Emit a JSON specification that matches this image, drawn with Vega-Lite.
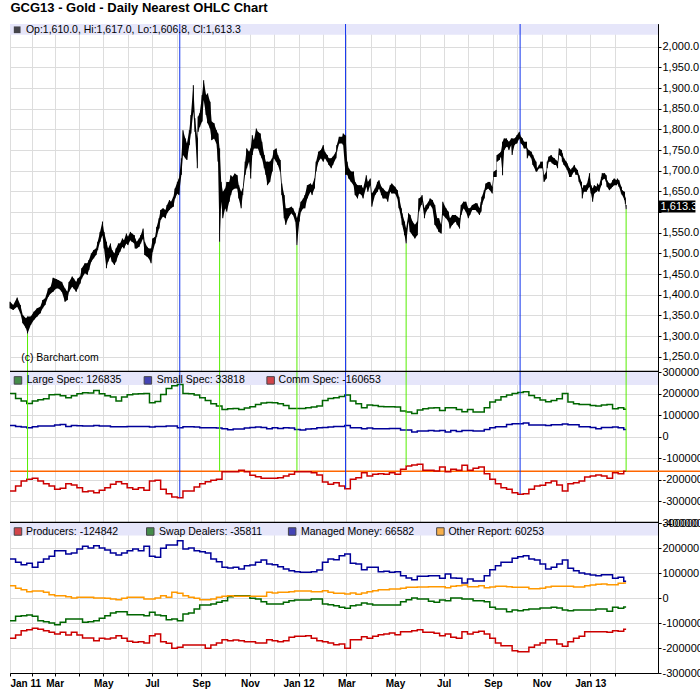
{
"$schema": "https://vega.github.io/schema/vega-lite/v6.json",
"background": "white",
"padding": {"left": 6, "top": 2, "right": 0, "bottom": 0},
"title": {"text": "GCG13 - Gold - Daily Nearest OHLC Chart", "anchor": "start", "fontSize": 13, "fontWeight": "bold", "font": "Liberation Sans", "color": "black", "offset": 8, "dx": 4},
"bounds": "flush",
"spacing": 0,
"resolve": {"scale": {"x": "independent", "y": "independent"}},
"config": {"aria": false, "font": "Liberation Sans", "view": {"stroke": "black", "strokeWidth": 1}, "axis": {"labelFont": "Liberation Sans", "labelOverlap": false}},
"datasets": {
"price": [
{"d":"2011-01-04","h":1383,"l":1367},{"d":"2011-01-08","h":1375,"l":1363},{"d":"2011-01-13","h":1393,"l":1371},{"d":"2011-01-17","h":1375,"l":1355},{"d":"2011-01-20","h":1351,"l":1331},{"d":"2011-01-24","h":1343,"l":1319},{"d":"2011-01-26","h":1347,"l":1306},{"d":"2011-01-30","h":1347,"l":1327},{"d":"2011-02-03","h":1359,"l":1339},{"d":"2011-02-07","h":1367,"l":1347},{"d":"2011-02-11","h":1371,"l":1355},{"d":"2011-02-14","h":1387,"l":1367},{"d":"2011-02-17","h":1391,"l":1375},{"d":"2011-02-21","h":1415,"l":1395},{"d":"2011-02-24","h":1419,"l":1403},{"d":"2011-02-27","h":1441,"l":1407},{"d":"2011-03-03","h":1438,"l":1415},{"d":"2011-03-06","h":1435,"l":1415},{"d":"2011-03-10","h":1431,"l":1407},{"d":"2011-03-14","h":1415,"l":1383},{"d":"2011-03-17","h":1407,"l":1387},{"d":"2011-03-19","h":1431,"l":1407},{"d":"2011-03-23","h":1444,"l":1419},{"d":"2011-03-25","h":1439,"l":1415},{"d":"2011-03-28","h":1431,"l":1407},{"d":"2011-03-30","h":1439,"l":1415},{"d":"2011-04-02","h":1444,"l":1427},{"d":"2011-04-04","h":1464,"l":1439},{"d":"2011-04-08","h":1476,"l":1452},{"d":"2011-04-11","h":1476,"l":1448},{"d":"2011-04-13","h":1484,"l":1460},{"d":"2011-04-16","h":1500,"l":1480},{"d":"2011-04-19","h":1508,"l":1488},{"d":"2011-04-22","h":1512,"l":1496},{"d":"2011-04-24","h":1528,"l":1508},{"d":"2011-04-27","h":1552,"l":1528},{"d":"2011-04-30","h":1577,"l":1544},{"d":"2011-05-02","h":1552,"l":1512},{"d":"2011-05-05","h":1528,"l":1464},{"d":"2011-05-07","h":1512,"l":1480},{"d":"2011-05-10","h":1524,"l":1492},{"d":"2011-05-12","h":1508,"l":1480},{"d":"2011-05-15","h":1500,"l":1472},{"d":"2011-05-17","h":1512,"l":1480},{"d":"2011-05-20","h":1524,"l":1496},{"d":"2011-05-22","h":1524,"l":1504},{"d":"2011-05-25","h":1536,"l":1516},{"d":"2011-05-27","h":1532,"l":1512},{"d":"2011-05-30","h":1548,"l":1524},{"d":"2011-06-01","h":1540,"l":1520},{"d":"2011-06-04","h":1552,"l":1532},{"d":"2011-06-06","h":1548,"l":1528},{"d":"2011-06-09","h":1544,"l":1524},{"d":"2011-06-10","h":1536,"l":1512},{"d":"2011-06-12","h":1528,"l":1512},{"d":"2011-06-15","h":1536,"l":1516},{"d":"2011-06-17","h":1544,"l":1524},{"d":"2011-06-20","h":1560,"l":1536},{"d":"2011-06-22","h":1528,"l":1496},{"d":"2011-06-25","h":1516,"l":1492},{"d":"2011-06-27","h":1512,"l":1488},{"d":"2011-06-30","h":1512,"l":1476},{"d":"2011-07-02","h":1536,"l":1504},{"d":"2011-07-05","h":1540,"l":1524},{"d":"2011-07-07","h":1564,"l":1540},{"d":"2011-07-10","h":1585,"l":1560},{"d":"2011-07-12","h":1605,"l":1581},{"d":"2011-07-15","h":1609,"l":1589},{"d":"2011-07-18","h":1605,"l":1585},{"d":"2011-07-20","h":1617,"l":1597},{"d":"2011-07-23","h":1629,"l":1605},{"d":"2011-07-25","h":1625,"l":1609},{"d":"2011-07-28","h":1637,"l":1613},{"d":"2011-07-30","h":1657,"l":1633},{"d":"2011-08-02","h":1673,"l":1645},{"d":"2011-08-04","h":1681,"l":1641},{"d":"2011-08-07","h":1730,"l":1690},{"d":"2011-08-09","h":1798,"l":1738},{"d":"2011-08-12","h":1778,"l":1730},{"d":"2011-08-14","h":1766,"l":1726},{"d":"2011-08-17","h":1798,"l":1762},{"d":"2011-08-19","h":1835,"l":1790},{"d":"2011-08-22","h":1907,"l":1843},{"d":"2011-08-24","h":1827,"l":1794},{"d":"2011-08-27","h":1778,"l":1706},{"d":"2011-08-28","h":1831,"l":1794},{"d":"2011-08-30","h":1839,"l":1806},{"d":"2011-09-02","h":1883,"l":1819},{"d":"2011-09-04","h":1919,"l":1871},{"d":"2011-09-07","h":1883,"l":1835},{"d":"2011-09-09","h":1887,"l":1815},{"d":"2011-09-12","h":1867,"l":1802},{"d":"2011-09-14","h":1819,"l":1774},{"d":"2011-09-17","h":1815,"l":1778},{"d":"2011-09-20","h":1798,"l":1766},{"d":"2011-09-22","h":1790,"l":1722},{"d":"2011-09-24","h":1754,"l":1528},{"d":"2011-09-26","h":1673,"l":1625},{"d":"2011-09-28","h":1649,"l":1585},{"d":"2011-10-01","h":1657,"l":1609},{"d":"2011-10-03","h":1673,"l":1601},{"d":"2011-10-06","h":1673,"l":1625},{"d":"2011-10-08","h":1689,"l":1641},{"d":"2011-10-10","h":1685,"l":1653},{"d":"2011-10-13","h":1693,"l":1657},{"d":"2011-10-16","h":1689,"l":1657},{"d":"2011-10-18","h":1665,"l":1633},{"d":"2011-10-21","h":1649,"l":1609},{"d":"2011-10-23","h":1657,"l":1641},{"d":"2011-10-26","h":1722,"l":1690},{"d":"2011-10-28","h":1754,"l":1706},{"d":"2011-10-31","h":1746,"l":1722},{"d":"2011-11-02","h":1754,"l":1681},{"d":"2011-11-04","h":1786,"l":1738},{"d":"2011-11-06","h":1774,"l":1754},{"d":"2011-11-09","h":1802,"l":1754},{"d":"2011-11-11","h":1794,"l":1754},{"d":"2011-11-14","h":1790,"l":1738},{"d":"2011-11-16","h":1770,"l":1730},{"d":"2011-11-19","h":1738,"l":1706},{"d":"2011-11-21","h":1722,"l":1690},{"d":"2011-11-23","h":1722,"l":1665},{"d":"2011-11-26","h":1722,"l":1673},{"d":"2011-11-29","h":1730,"l":1698},{"d":"2011-12-01","h":1750,"l":1730},{"d":"2011-12-04","h":1754,"l":1722},{"d":"2011-12-06","h":1738,"l":1714},{"d":"2011-12-09","h":1726,"l":1698},{"d":"2011-12-11","h":1669,"l":1641},{"d":"2011-12-14","h":1641,"l":1585},{"d":"2011-12-16","h":1609,"l":1569},{"d":"2011-12-19","h":1609,"l":1585},{"d":"2011-12-23","h":1613,"l":1597},{"d":"2011-12-25","h":1609,"l":1593},{"d":"2011-12-28","h":1597,"l":1577},{"d":"2011-12-30","h":1585,"l":1520},{"d":"2012-01-02","h":1609,"l":1577},{"d":"2012-01-04","h":1625,"l":1601},{"d":"2012-01-07","h":1633,"l":1609},{"d":"2012-01-09","h":1641,"l":1609},{"d":"2012-01-12","h":1665,"l":1633},{"d":"2012-01-16","h":1669,"l":1649},{"d":"2012-01-18","h":1665,"l":1641},{"d":"2012-01-21","h":1681,"l":1657},{"d":"2012-01-23","h":1722,"l":1698},{"d":"2012-01-26","h":1746,"l":1722},{"d":"2012-01-29","h":1750,"l":1730},{"d":"2012-02-01","h":1762,"l":1722},{"d":"2012-02-03","h":1746,"l":1730},{"d":"2012-02-06","h":1738,"l":1722},{"d":"2012-02-08","h":1730,"l":1714},{"d":"2012-02-11","h":1730,"l":1706},{"d":"2012-02-13","h":1734,"l":1714},{"d":"2012-02-17","h":1746,"l":1730},{"d":"2012-02-18","h":1762,"l":1746},{"d":"2012-02-21","h":1782,"l":1766},{"d":"2012-02-25","h":1782,"l":1766},{"d":"2012-02-26","h":1790,"l":1762},{"d":"2012-02-29","h":1785,"l":1690},{"d":"2012-03-02","h":1722,"l":1690},{"d":"2012-03-04","h":1706,"l":1681},{"d":"2012-03-07","h":1698,"l":1673},{"d":"2012-03-10","h":1698,"l":1665},{"d":"2012-03-12","h":1673,"l":1641},{"d":"2012-03-15","h":1665,"l":1633},{"d":"2012-03-17","h":1665,"l":1645},{"d":"2012-03-20","h":1665,"l":1641},{"d":"2012-03-22","h":1657,"l":1633},{"d":"2012-03-26","h":1689,"l":1661},{"d":"2012-03-28","h":1673,"l":1649},{"d":"2012-03-31","h":1681,"l":1665},{"d":"2012-04-02","h":1645,"l":1613},{"d":"2012-04-06","h":1657,"l":1641},{"d":"2012-04-09","h":1673,"l":1649},{"d":"2012-04-11","h":1677,"l":1657},{"d":"2012-04-14","h":1661,"l":1641},{"d":"2012-04-16","h":1657,"l":1633},{"d":"2012-04-20","h":1649,"l":1633},{"d":"2012-04-22","h":1649,"l":1625},{"d":"2012-04-25","h":1665,"l":1649},{"d":"2012-04-27","h":1669,"l":1645},{"d":"2012-05-01","h":1661,"l":1645},{"d":"2012-05-04","h":1653,"l":1633},{"d":"2012-05-06","h":1637,"l":1609},{"d":"2012-05-09","h":1609,"l":1585},{"d":"2012-05-10","h":1597,"l":1569},{"d":"2012-05-13","h":1577,"l":1544},{"d":"2012-05-15","h":1560,"l":1524},{"d":"2012-05-18","h":1597,"l":1577},{"d":"2012-05-20","h":1593,"l":1552},{"d":"2012-05-23","h":1577,"l":1544},{"d":"2012-05-26","h":1569,"l":1536},{"d":"2012-05-29","h":1577,"l":1544},{"d":"2012-05-31","h":1633,"l":1601},{"d":"2012-06-03","h":1637,"l":1617},{"d":"2012-06-04","h":1641,"l":1625},{"d":"2012-06-07","h":1609,"l":1585},{"d":"2012-06-09","h":1617,"l":1601},{"d":"2012-06-12","h":1625,"l":1609},{"d":"2012-06-14","h":1633,"l":1617},{"d":"2012-06-17","h":1629,"l":1609},{"d":"2012-06-20","h":1617,"l":1569},{"d":"2012-06-23","h":1585,"l":1560},{"d":"2012-06-25","h":1585,"l":1552},{"d":"2012-06-28","h":1569,"l":1548},{"d":"2012-06-30","h":1625,"l":1593},{"d":"2012-07-04","h":1609,"l":1585},{"d":"2012-07-07","h":1601,"l":1577},{"d":"2012-07-09","h":1585,"l":1560},{"d":"2012-07-12","h":1593,"l":1569},{"d":"2012-07-16","h":1593,"l":1577},{"d":"2012-07-18","h":1589,"l":1569},{"d":"2012-07-21","h":1585,"l":1560},{"d":"2012-07-23","h":1617,"l":1593},{"d":"2012-07-26","h":1625,"l":1609},{"d":"2012-07-29","h":1625,"l":1601},{"d":"2012-08-01","h":1609,"l":1585},{"d":"2012-08-03","h":1609,"l":1593},{"d":"2012-08-06","h":1617,"l":1605},{"d":"2012-08-10","h":1621,"l":1605},{"d":"2012-08-12","h":1621,"l":1601},{"d":"2012-08-15","h":1609,"l":1593},{"d":"2012-08-17","h":1625,"l":1601},{"d":"2012-08-18","h":1637,"l":1617},{"d":"2012-08-21","h":1653,"l":1633},{"d":"2012-08-23","h":1669,"l":1653},{"d":"2012-08-26","h":1673,"l":1657},{"d":"2012-08-28","h":1673,"l":1653},{"d":"2012-08-31","h":1661,"l":1645},{"d":"2012-09-02","h":1698,"l":1685},{"d":"2012-09-05","h":1702,"l":1685},{"d":"2012-09-06","h":1738,"l":1722},{"d":"2012-09-09","h":1742,"l":1726},{"d":"2012-09-11","h":1746,"l":1734},{"d":"2012-09-13","h":1770,"l":1689},{"d":"2012-09-15","h":1778,"l":1750},{"d":"2012-09-18","h":1778,"l":1758},{"d":"2012-09-19","h":1774,"l":1758},{"d":"2012-09-21","h":1770,"l":1750},{"d":"2012-09-24","h":1778,"l":1762},{"d":"2012-09-25","h":1778,"l":1738},{"d":"2012-09-28","h":1778,"l":1762},{"d":"2012-09-30","h":1782,"l":1766},{"d":"2012-10-01","h":1786,"l":1766},{"d":"2012-10-04","h":1794,"l":1778},{"d":"2012-10-06","h":1782,"l":1766},{"d":"2012-10-08","h":1778,"l":1762},{"d":"2012-10-10","h":1770,"l":1754},{"d":"2012-10-13","h":1770,"l":1754},{"d":"2012-10-14","h":1754,"l":1730},{"d":"2012-10-16","h":1750,"l":1738},{"d":"2012-10-19","h":1746,"l":1730},{"d":"2012-10-21","h":1738,"l":1714},{"d":"2012-10-25","h":1722,"l":1698},{"d":"2012-10-26","h":1706,"l":1698},{"d":"2012-10-29","h":1714,"l":1706},{"d":"2012-10-31","h":1722,"l":1706},{"d":"2012-11-02","h":1722,"l":1706},{"d":"2012-11-04","h":1689,"l":1673},{"d":"2012-11-07","h":1698,"l":1681},{"d":"2012-11-08","h":1722,"l":1706},{"d":"2012-11-10","h":1734,"l":1722},{"d":"2012-11-13","h":1738,"l":1722},{"d":"2012-11-14","h":1734,"l":1718},{"d":"2012-11-17","h":1730,"l":1714},{"d":"2012-11-19","h":1726,"l":1714},{"d":"2012-11-21","h":1722,"l":1706},{"d":"2012-11-23","h":1754,"l":1738},{"d":"2012-11-26","h":1750,"l":1734},{"d":"2012-11-27","h":1742,"l":1722},{"d":"2012-11-29","h":1730,"l":1714},{"d":"2012-12-02","h":1722,"l":1706},{"d":"2012-12-03","h":1718,"l":1702},{"d":"2012-12-06","h":1706,"l":1685},{"d":"2012-12-08","h":1702,"l":1685},{"d":"2012-12-09","h":1706,"l":1690},{"d":"2012-12-12","h":1714,"l":1698},{"d":"2012-12-14","h":1706,"l":1690},{"d":"2012-12-16","h":1702,"l":1690},{"d":"2012-12-18","h":1689,"l":1673},{"d":"2012-12-21","h":1673,"l":1657},{"d":"2012-12-22","h":1657,"l":1633},{"d":"2012-12-24","h":1665,"l":1649},{"d":"2012-12-27","h":1665,"l":1649},{"d":"2012-12-28","h":1669,"l":1653},{"d":"2012-12-31","h":1694,"l":1661},{"d":"2013-01-02","h":1665,"l":1645},{"d":"2013-01-04","h":1657,"l":1625},{"d":"2013-01-06","h":1665,"l":1645},{"d":"2013-01-09","h":1661,"l":1649},{"d":"2013-01-10","h":1669,"l":1653},{"d":"2013-01-12","h":1665,"l":1649},{"d":"2013-01-15","h":1685,"l":1665},{"d":"2013-01-16","h":1694,"l":1677},{"d":"2013-01-19","h":1694,"l":1681},{"d":"2013-01-21","h":1689,"l":1673},{"d":"2013-01-22","h":1677,"l":1661},{"d":"2013-01-25","h":1669,"l":1653},{"d":"2013-01-27","h":1669,"l":1657},{"d":"2013-01-29","h":1677,"l":1661},{"d":"2013-01-31","h":1681,"l":1665},{"d":"2013-02-03","h":1677,"l":1665},{"d":"2013-02-04","h":1681,"l":1669},{"d":"2013-02-06","h":1677,"l":1661},{"d":"2013-02-09","h":1661,"l":1645},{"d":"2013-02-10","h":1653,"l":1641},{"d":"2013-02-13","h":1649,"l":1629},{"d":"2013-02-14","h":1635,"l":1620},{"d":"2013-02-15","h":1617,"l":1606.8}
],
"cot": [
{"d":"2011-01-04","ls":200600,"ss":52500,"cs":-251500,"pr":-161300,"sw":-90700,"mm":156000,"ot":49300},
{"d":"2011-01-11","ls":177400,"ss":47800,"cs":-228400,"pr":-148000,"sw":-73300,"mm":142700,"ot":38700},
{"d":"2011-01-18","ls":165100,"ss":44700,"cs":-205200,"pr":-130700,"sw":-70700,"mm":133300,"ot":33300},
{"d":"2011-01-25","ls":154300,"ss":41700,"cs":-197500,"pr":-126700,"sw":-68000,"mm":138700,"ot":25300},
{"d":"2011-02-01","ls":165100,"ss":46300,"cs":-192900,"pr":-121300,"sw":-73300,"mm":122700,"ot":28000},
{"d":"2011-02-08","ls":171300,"ss":49400,"cs":-205200,"pr":-124800,"sw":-90700,"mm":142700,"ot":28000},
{"d":"2011-02-15","ls":175900,"ss":49400,"cs":-217600,"pr":-130700,"sw":-94700,"mm":156000,"ot":22700},
{"d":"2011-02-22","ls":194400,"ss":49400,"cs":-228400,"pr":-137300,"sw":-100000,"mm":166700,"ot":13300},
{"d":"2011-03-01","ls":196000,"ss":54000,"cs":-243800,"pr":-144000,"sw":-106700,"mm":189300,"ot":9300},
{"d":"2011-03-08","ls":189800,"ss":57100,"cs":-239200,"pr":-137300,"sw":-97300,"mm":189300,"ot":9300},
{"d":"2011-03-15","ls":180500,"ss":47800,"cs":-217600,"pr":-148000,"sw":-84000,"mm":176000,"ot":5300},
{"d":"2011-03-22","ls":189800,"ss":52500,"cs":-223700,"pr":-137300,"sw":-84000,"mm":180000,"ot":0},
{"d":"2011-03-29","ls":199000,"ss":50900,"cs":-236100,"pr":-148000,"sw":-84000,"mm":196000,"ot":2700},
{"d":"2011-04-05","ls":203700,"ss":49400,"cs":-254600,"pr":-160000,"sw":-97300,"mm":206700,"ot":2700},
{"d":"2011-04-12","ls":202100,"ss":49400,"cs":-251500,"pr":-160000,"sw":-94700,"mm":200000,"ot":2700},
{"d":"2011-04-19","ls":214500,"ss":52500,"cs":-259200,"pr":-170700,"sw":-90700,"mm":209300,"ot":0},
{"d":"2011-04-26","ls":199000,"ss":49400,"cs":-248400,"pr":-161300,"sw":-81300,"mm":200000,"ot":0},
{"d":"2011-05-03","ls":189800,"ss":49400,"cs":-236100,"pr":-164000,"sw":-70700,"mm":192000,"ot":-1300},
{"d":"2011-05-10","ls":183600,"ss":46300,"cs":-220600,"pr":-160000,"sw":-60000,"mm":180000,"ot":-4000},
{"d":"2011-05-17","ls":165100,"ss":46300,"cs":-208300,"pr":-150700,"sw":-54700,"mm":172000,"ot":-6700},
{"d":"2011-05-24","ls":183600,"ss":46300,"cs":-217600,"pr":-161300,"sw":-54700,"mm":180000,"ot":-1300},
{"d":"2011-05-31","ls":194400,"ss":47800,"cs":-236100,"pr":-173300,"sw":-66700,"mm":189300,"ot":2700},
{"d":"2011-06-07","ls":197500,"ss":47800,"cs":-243800,"pr":-177300,"sw":-66700,"mm":196000,"ot":2700},
{"d":"2011-06-14","ls":199000,"ss":47800,"cs":-236100,"pr":-174700,"sw":-66700,"mm":189300,"ot":2700},
{"d":"2011-06-21","ls":200600,"ss":47800,"cs":-248400,"pr":-180000,"sw":-70700,"mm":206700,"ot":-4000},
{"d":"2011-06-28","ls":157400,"ss":44700,"cs":-205200,"pr":-150700,"sw":-57300,"mm":166700,"ot":-4000},
{"d":"2011-07-05","ls":163600,"ss":47800,"cs":-202100,"pr":-144000,"sw":-68000,"mm":162700,"ot":0},
{"d":"2011-07-12","ls":196000,"ss":47800,"cs":-243800,"pr":-174700,"sw":-70700,"mm":198700,"ot":9300},
{"d":"2011-07-19","ls":223700,"ss":49400,"cs":-263900,"pr":-181300,"sw":-86700,"mm":212000,"ot":2700},
{"d":"2011-07-26","ls":236100,"ss":49400,"cs":-279300,"pr":-201300,"sw":-84000,"mm":212000,"ot":22700},
{"d":"2011-08-02","ls":242300,"ss":41700,"cs":-282400,"pr":-197300,"sw":-90700,"mm":229300,"ot":18700},
{"d":"2011-08-09","ls":200600,"ss":46300,"cs":-251500,"pr":-188000,"sw":-64000,"mm":196000,"ot":9300},
{"d":"2011-08-16","ls":199000,"ss":46300,"cs":-251500,"pr":-188000,"sw":-60000,"mm":200000,"ot":2700},
{"d":"2011-08-23","ls":192900,"ss":44700,"cs":-233000,"pr":-188000,"sw":-44000,"mm":189300,"ot":-1300},
{"d":"2011-08-30","ls":180500,"ss":41700,"cs":-217600,"pr":-188000,"sw":-28000,"mm":185300,"ot":-6700},
{"d":"2011-09-06","ls":168200,"ss":41700,"cs":-208300,"pr":-201300,"sw":-28000,"mm":180000,"ot":-6700},
{"d":"2011-09-13","ls":152800,"ss":41700,"cs":-202100,"pr":-188000,"sw":-24000,"mm":156000,"ot":-4000},
{"d":"2011-09-20","ls":142000,"ss":40100,"cs":-197500,"pr":-180000,"sw":-17300,"mm":145300,"ot":2700},
{"d":"2011-09-27","ls":126500,"ss":37000,"cs":-162000,"pr":-166700,"sw":-10700,"mm":122700,"ot":6700},
{"d":"2011-10-04","ls":129600,"ss":32400,"cs":-162000,"pr":-170700,"sw":5300,"mm":120000,"ot":9300},
{"d":"2011-10-11","ls":131200,"ss":35500,"cs":-162000,"pr":-168000,"sw":9300,"mm":122700,"ot":6700},
{"d":"2011-10-18","ls":126500,"ss":35500,"cs":-155800,"pr":-170700,"sw":9300,"mm":116000,"ot":6700},
{"d":"2011-10-25","ls":132700,"ss":40100,"cs":-162000,"pr":-174700,"sw":9300,"mm":129300,"ot":6700},
{"d":"2011-11-01","ls":138900,"ss":43200,"cs":-179000,"pr":-174700,"sw":-1300,"mm":132000,"ot":6700},
{"d":"2011-11-08","ls":149700,"ss":44700,"cs":-185200,"pr":-180000,"sw":-4000,"mm":142700,"ot":6700},
{"d":"2011-11-15","ls":155800,"ss":43200,"cs":-192900,"pr":-180000,"sw":-14700,"mm":152000,"ot":6700},
{"d":"2011-11-22","ls":158900,"ss":37000,"cs":-192900,"pr":-166700,"sw":-24000,"mm":136000,"ot":22700},
{"d":"2011-11-29","ls":157400,"ss":41700,"cs":-192900,"pr":-170700,"sw":-24000,"mm":133300,"ot":20000},
{"d":"2011-12-06","ls":152800,"ss":38600,"cs":-189800,"pr":-174700,"sw":-24000,"mm":125300,"ot":22700},
{"d":"2011-12-13","ls":145000,"ss":41700,"cs":-182100,"pr":-170700,"sw":-17300,"mm":116000,"ot":22700},
{"d":"2011-12-20","ls":131200,"ss":40100,"cs":-174400,"pr":-157300,"sw":-10700,"mm":109300,"ot":25300},
{"d":"2011-12-27","ls":131200,"ss":33900,"cs":-162000,"pr":-153300,"sw":-8000,"mm":105300,"ot":28000},
{"d":"2012-01-03","ls":131200,"ss":30900,"cs":-162000,"pr":-153300,"sw":-8000,"mm":102700,"ot":28000},
{"d":"2012-01-10","ls":134200,"ss":35500,"cs":-162000,"pr":-150700,"sw":-8000,"mm":102700,"ot":28000},
{"d":"2012-01-17","ls":137300,"ss":37000,"cs":-166600,"pr":-161300,"sw":-4000,"mm":105300,"ot":25300},
{"d":"2012-01-24","ls":142000,"ss":41700,"cs":-177400,"pr":-170700,"sw":-4000,"mm":112000,"ot":25300},
{"d":"2012-01-31","ls":168200,"ss":43200,"cs":-209800,"pr":-174700,"sw":-24000,"mm":142700,"ot":29300},
{"d":"2012-02-07","ls":177400,"ss":44700,"cs":-220600,"pr":-180000,"sw":-26700,"mm":156000,"ot":22700},
{"d":"2012-02-14","ls":180500,"ss":47800,"cs":-212900,"pr":-186700,"sw":-30700,"mm":153300,"ot":18700},
{"d":"2012-02-21","ls":186700,"ss":47800,"cs":-228400,"pr":-184000,"sw":-37300,"mm":169300,"ot":18700},
{"d":"2012-02-28","ls":192900,"ss":52500,"cs":-240700,"pr":-201300,"sw":-41300,"mm":176000,"ot":16000},
{"d":"2012-03-06","ls":165100,"ss":41700,"cs":-197500,"pr":-166700,"sw":-30700,"mm":138700,"ot":20000},
{"d":"2012-03-13","ls":152800,"ss":41700,"cs":-189800,"pr":-166700,"sw":-28000,"mm":136000,"ot":14700},
{"d":"2012-03-20","ls":134200,"ss":37000,"cs":-166600,"pr":-154700,"sw":-20000,"mm":113300,"ot":20000},
{"d":"2012-03-27","ls":146600,"ss":40100,"cs":-182100,"pr":-161300,"sw":-24000,"mm":122700,"ot":25300},
{"d":"2012-04-03","ls":145000,"ss":37000,"cs":-174400,"pr":-153300,"sw":-28000,"mm":122700,"ot":29300},
{"d":"2012-04-10","ls":140400,"ss":37000,"cs":-171300,"pr":-146700,"sw":-28000,"mm":105300,"ot":33300},
{"d":"2012-04-17","ls":138900,"ss":37000,"cs":-174400,"pr":-144000,"sw":-28000,"mm":106700,"ot":33300},
{"d":"2012-04-24","ls":138900,"ss":38600,"cs":-166600,"pr":-140000,"sw":-28000,"mm":102700,"ot":36000},
{"d":"2012-05-01","ls":137300,"ss":38600,"cs":-174400,"pr":-146700,"sw":-28000,"mm":105300,"ot":36000},
{"d":"2012-05-08","ls":118800,"ss":30900,"cs":-151200,"pr":-134700,"sw":-14700,"mm":89300,"ot":38700},
{"d":"2012-05-15","ls":114200,"ss":30900,"cs":-135800,"pr":-134700,"sw":-6700,"mm":80000,"ot":42700},
{"d":"2012-05-22","ls":108000,"ss":21600,"cs":-131200,"pr":-130700,"sw":0,"mm":73300,"ot":42700},
{"d":"2012-05-29","ls":123400,"ss":26200,"cs":-128100,"pr":-126700,"sw":-4000,"mm":86700,"ot":44000},
{"d":"2012-06-05","ls":129600,"ss":26200,"cs":-155800,"pr":-137300,"sw":-4000,"mm":86700,"ot":44000},
{"d":"2012-06-12","ls":132700,"ss":29300,"cs":-155800,"pr":-137300,"sw":-13300,"mm":89300,"ot":45300},
{"d":"2012-06-19","ls":134200,"ss":26200,"cs":-158900,"pr":-141300,"sw":-17300,"mm":89300,"ot":45300},
{"d":"2012-06-26","ls":121900,"ss":29300,"cs":-140400,"pr":-150700,"sw":-8000,"mm":78700,"ot":45300},
{"d":"2012-07-03","ls":134200,"ss":21600,"cs":-162000,"pr":-144000,"sw":-10700,"mm":96000,"ot":41300},
{"d":"2012-07-10","ls":134200,"ss":29300,"cs":-151200,"pr":-157300,"sw":0,"mm":80000,"ot":46700},
{"d":"2012-07-17","ls":126500,"ss":24700,"cs":-155800,"pr":-161300,"sw":0,"mm":78700,"ot":49300},
{"d":"2012-07-24","ls":115700,"ss":29300,"cs":-132700,"pr":-134700,"sw":-4000,"mm":60000,"ot":52000},
{"d":"2012-07-31","ls":126500,"ss":29300,"cs":-155800,"pr":-144000,"sw":-4000,"mm":76000,"ot":45300},
{"d":"2012-08-07","ls":114200,"ss":26200,"cs":-146600,"pr":-137300,"sw":-10700,"mm":68000,"ot":45300},
{"d":"2012-08-14","ls":114200,"ss":26200,"cs":-140400,"pr":-133300,"sw":-10700,"mm":68000,"ot":49300},
{"d":"2012-08-21","ls":134200,"ss":33900,"cs":-171300,"pr":-144000,"sw":-14700,"mm":89300,"ot":41300},
{"d":"2012-08-28","ls":160500,"ss":41700,"cs":-197500,"pr":-161300,"sw":-37300,"mm":113300,"ot":44000},
{"d":"2012-09-04","ls":169700,"ss":46300,"cs":-217600,"pr":-180000,"sw":-44000,"mm":129300,"ot":46700},
{"d":"2012-09-11","ls":185200,"ss":46300,"cs":-236100,"pr":-190700,"sw":-44000,"mm":142700,"ot":46700},
{"d":"2012-09-18","ls":192900,"ss":57100,"cs":-243800,"pr":-190700,"sw":-54700,"mm":142700,"ot":45300},
{"d":"2012-09-25","ls":200600,"ss":60200,"cs":-259200,"pr":-210700,"sw":-48000,"mm":158700,"ot":42700},
{"d":"2012-10-02","ls":205200,"ss":60200,"cs":-266900,"pr":-214700,"sw":-50700,"mm":165300,"ot":42700},
{"d":"2012-10-09","ls":208300,"ss":63300,"cs":-263900,"pr":-214700,"sw":-46700,"mm":169300,"ot":42700},
{"d":"2012-10-16","ls":191300,"ss":54000,"cs":-243800,"pr":-197300,"sw":-44000,"mm":156000,"ot":37300},
{"d":"2012-10-23","ls":180500,"ss":54000,"cs":-228400,"pr":-188000,"sw":-44000,"mm":152000,"ot":37300},
{"d":"2012-10-30","ls":169700,"ss":54000,"cs":-225300,"pr":-180000,"sw":-40000,"mm":136000,"ot":38700},
{"d":"2012-11-06","ls":162000,"ss":52500,"cs":-212900,"pr":-166700,"sw":-40000,"mm":116000,"ot":44000},
{"d":"2012-11-13","ls":168200,"ss":55500,"cs":-205200,"pr":-166700,"sw":-37300,"mm":122700,"ot":46700},
{"d":"2012-11-20","ls":175900,"ss":55500,"cs":-223700,"pr":-184000,"sw":-40000,"mm":136000,"ot":46700},
{"d":"2012-11-27","ls":200600,"ss":58600,"cs":-251500,"pr":-193300,"sw":-48000,"mm":152000,"ot":46700},
{"d":"2012-12-04","ls":160500,"ss":55500,"cs":-217600,"pr":-174700,"sw":-50700,"mm":118700,"ot":46700},
{"d":"2012-12-11","ls":152800,"ss":55500,"cs":-212900,"pr":-161300,"sw":-48000,"mm":109300,"ot":44000},
{"d":"2012-12-18","ls":149700,"ss":46300,"cs":-205200,"pr":-153300,"sw":-48000,"mm":100000,"ot":44000},
{"d":"2012-12-25","ls":149700,"ss":46300,"cs":-186700,"pr":-134700,"sw":-48000,"mm":96000,"ot":49300},
{"d":"2013-01-01","ls":145000,"ss":43200,"cs":-182100,"pr":-134700,"sw":-48000,"mm":92000,"ot":52000},
{"d":"2013-01-08","ls":142000,"ss":37000,"cs":-177400,"pr":-134700,"sw":-44000,"mm":89300,"ot":54700},
{"d":"2013-01-15","ls":146600,"ss":43200,"cs":-182100,"pr":-134700,"sw":-44000,"mm":93300,"ot":56000},
{"d":"2013-01-22","ls":149700,"ss":43200,"cs":-192900,"pr":-137300,"sw":-53300,"mm":93300,"ot":53300},
{"d":"2013-01-29","ls":129600,"ss":44700,"cs":-166600,"pr":-130700,"sw":-37300,"mm":78700,"ot":53300},
{"d":"2013-02-05","ls":134200,"ss":41700,"cs":-171300,"pr":-133300,"sw":-41300,"mm":82700,"ot":58700},
{"d":"2013-02-12","ls":126835,"ss":33818,"cs":-160653,"pr":-124842,"sw":-35811,"mm":66582,"ot":60253},
{"d":"2013-02-15","ls":126835,"ss":33818,"cs":-160653,"pr":-124842,"sw":-35811,"mm":66582,"ot":60253}
],
"annot": [
{"d":"2011-01-26","k":"low","p":1306,"cs":-197500},
{"d":"2011-08-05","k":"high","p":1919,"cs":-282400},
{"d":"2011-09-24","k":"low","p":1528,"cs":-159000},
{"d":"2011-12-30","k":"low","p":1520,"cs":-159000},
{"d":"2012-02-29","k":"high","p":1790,"cs":-240700},
{"d":"2012-05-15","k":"low","p":1524,"cs":-135800},
{"d":"2012-10-05","k":"high","p":1794,"cs":-266900},
{"d":"2013-02-15","k":"low","p":1606.8,"cs":-160653}
]
},
"vconcat": [
{
"width": 648, "height": 348,
"layer": [
{"data": {"values": [{}]}, "mark": {"type": "rect", "color": "#e6e6fa"},
 "encoding": {"x": {"datum": 1294099200000, "type": "temporal"}, "x2": {"datum": 1364342400000}, "y": {"datum": 2055, "type": "quantitative"}, "y2": {"datum": 2029}}},
{"data": {"name": "annot"}, "transform": [{"filter": "datum.k == 'low'"}], "mark": {"type": "rule", "color": "#55ee00", "strokeWidth": 1},
 "encoding": {"x": {"field": "d", "type": "temporal", "title": null}, "y": {"field": "p", "type": "quantitative", "title": null}, "y2": {"datum": 1213}}},
{"data": {"name": "annot"}, "transform": [{"filter": "datum.k == 'high'"}], "mark": {"type": "rule", "color": "#1133ee", "strokeWidth": 1},
 "encoding": {"x": {"field": "d", "type": "temporal", "title": null}}},
{"data": {"name": "price"}, "mark": {"type": "area", "color": "black"},
 "encoding": {
  "x": {"field": "d", "type": "temporal", "title": null,
        "scale": {"type": "utc", "domain": [1294099200000, 1364342400000]},
        "axis": {"values": [1294099200000,1296518400000,1298937600000,1301616000000,1304208000000,1306886400000,1309478400000,1312156800000,1314835200000,1317427200000,1320105600000,1322697600000,1325376000000,1328054400000,1330560000000,1333238400000,1335830400000,1338508800000,1341100800000,1343779200000,1346457600000,1349049600000,1351728000000,1354320000000,1356998400000,1359676800000],
                 "tickCount": 40, "labels": false, "ticks": false, "domain": false, "grid": true, "gridColor": "#dddddd"}},
  "y": {"field": "l", "type": "quantitative", "title": null,
        "scale": {"domain": [1213, 2055], "nice": false, "zero": false},
        "axis": {"orient": "right", "values": [1250,1300,1350,1400,1450,1500,1550,1600,1650,1700,1750,1800,1850,1900,1950,2000], "tickCount": 30, "format": ",.1f", "labelExpr": "datum.value == 1600 ? '' : datum.label", "labelOverlap": false, "grid": true, "gridColor": "#dcdcdc", "tickSize": 3, "labelPadding": 1, "labelFontSize": 11, "labelColor": "black", "tickColor": "black", "domainColor": "black"}},
  "y2": {"field": "h"}}},
{"data": {"name": "price"}, "mark": {"type": "rule", "color": "black", "strokeWidth": 1},
 "encoding": {"x": {"field": "d", "type": "temporal", "title": null}, "y": {"field": "l", "type": "quantitative", "title": null}, "y2": {"field": "h"}}},
{"data": {"values": [{}]}, "mark": {"type": "square", "filled": true, "color": "black", "size": 45},
 "encoding": {"x": {"datum": 1294876800000, "type": "temporal"}, "y": {"datum": 2041, "type": "quantitative"}}},
{"data": {"values": [{}]}, "mark": {"type": "text", "text": "Op:1,610.0, Hi:1,617.0, Lo:1,606.8, Cl:1,613.3", "align": "left", "baseline": "middle", "fontSize": 10.5, "color": "black"},
 "encoding": {"x": {"datum": 1295827200000, "type": "temporal"}, "y": {"datum": 2041, "type": "quantitative"}}},
{"data": {"values": [{}]}, "mark": {"type": "text", "text": "(c) Barchart.com", "align": "left", "baseline": "middle", "fontSize": 10.5, "color": "black"},
 "encoding": {"x": {"datum": 1295308800000, "type": "temporal"}, "y": {"datum": 1246, "type": "quantitative"}}},
{"data": {"values": [{}]}, "mark": {"type": "rect", "color": "black"},
 "encoding": {"x": {"datum": 1364428800000, "type": "temporal"}, "x2": {"datum": 1368403200000}, "y": {"datum": 1628, "type": "quantitative"}, "y2": {"datum": 1599}}},
{"data": {"values": [{}]}, "mark": {"type": "text", "text": "1,613.3", "align": "left", "baseline": "middle", "fontSize": 11, "color": "white", "dx": 1},
 "encoding": {"x": {"datum": 1364515200000, "type": "temporal"}, "y": {"datum": 1613.3, "type": "quantitative"}}},
{"data": {"values": [{}]}, "mark": {"type": "rule", "color": "black", "strokeWidth": 2.5},
 "encoding": {"y": {"datum": 1213, "type": "quantitative"}}}
]
},
{
"width": 648, "height": 151,
"layer": [
{"data": {"values": [{}]}, "mark": {"type": "rect", "color": "#e6e6fa"},
 "encoding": {"x": {"datum": 1294099200000, "type": "temporal"}, "x2": {"datum": 1364342400000}, "y": {"datum": 300000, "type": "quantitative"}, "y2": {"datum": 240000}}},
{"data": {"values": [{}]}, "mark": {"type": "rule", "color": "#ff6600", "strokeWidth": 1.5},
 "encoding": {"x": {"datum": 1294099200000, "type": "temporal"}, "x2": {"datum": 1369440000000}, "y": {"datum": -160653, "type": "quantitative"}}},
{"data": {"name": "cot"}, "mark": {"type": "line", "interpolate": "step-after", "strokeWidth": 1.5, "color": "#006600"},
 "encoding": {
  "x": {"field": "d", "type": "temporal", "title": null,
        "scale": {"type": "utc", "domain": [1294099200000, 1364342400000]},
        "axis": {"values": [1294099200000,1296518400000,1298937600000,1301616000000,1304208000000,1306886400000,1309478400000,1312156800000,1314835200000,1317427200000,1320105600000,1322697600000,1325376000000,1328054400000,1330560000000,1333238400000,1335830400000,1338508800000,1341100800000,1343779200000,1346457600000,1349049600000,1351728000000,1354320000000,1356998400000,1359676800000],
                 "tickCount": 40, "labels": false, "ticks": false, "domain": false, "grid": true, "gridColor": "#dddddd"}},
  "y": {"field": "ls", "type": "quantitative", "title": null,
        "scale": {"domain": [-400000, 300000], "nice": false, "zero": false},
        "axis": {"orient": "right", "values": [-400000,-300000,-200000,-100000,0,100000,200000,300000], "tickCount": 30, "labelExpr": "(datum.value < 0 ? '-' : '') + format(abs(datum.value), 'd')", "labelOverlap": false, "grid": true, "gridColor": "#dcdcdc", "tickSize": 3, "labelPadding": 1, "labelFontSize": 11, "labelColor": "black", "tickColor": "black", "domainColor": "black"}}}},
{"data": {"name": "cot"}, "mark": {"type": "line", "interpolate": "step-after", "strokeWidth": 1.5, "color": "#000099"},
 "encoding": {"x": {"field": "d", "type": "temporal", "title": null}, "y": {"field": "ss", "type": "quantitative", "title": null}}},
{"data": {"name": "cot"}, "mark": {"type": "line", "interpolate": "step-after", "strokeWidth": 1.5, "color": "#cc0000"},
 "encoding": {"x": {"field": "d", "type": "temporal", "title": null}, "y": {"field": "cs", "type": "quantitative", "title": null}}},
{"data": {"name": "annot"}, "transform": [{"filter": "datum.k == 'low'"}], "mark": {"type": "rule", "color": "#55ee00", "strokeWidth": 1},
 "encoding": {"x": {"field": "d", "type": "temporal", "title": null}, "y": {"field": "cs", "type": "quantitative", "title": null}, "y2": {"datum": 300000}}},
{"data": {"name": "annot"}, "transform": [{"filter": "datum.k == 'high'"}], "mark": {"type": "rule", "color": "#1133ee", "strokeWidth": 1},
 "encoding": {"x": {"field": "d", "type": "temporal", "title": null}, "y": {"field": "cs", "type": "quantitative", "title": null}, "y2": {"datum": 300000}}},
{"data": {"values": [{}]}, "mark": {"type": "square", "filled": true, "color": "#006600", "stroke": "black", "strokeWidth": 1, "size": 56},
 "encoding": {"x": {"datum": 1294963200000, "type": "temporal"}, "y": {"datum": 261000, "type": "quantitative"}}},
{"data": {"values": [{}]}, "mark": {"type": "text", "text": "Large Spec: 126835", "align": "left", "baseline": "middle", "fontSize": 10.5, "color": "black"},
 "encoding": {"x": {"datum": 1295913600000, "type": "temporal"}, "y": {"datum": 261000, "type": "quantitative"}}},
{"data": {"values": [{}]}, "mark": {"type": "square", "filled": true, "color": "#000099", "stroke": "black", "strokeWidth": 1, "size": 56},
 "encoding": {"x": {"datum": 1309046400000, "type": "temporal"}, "y": {"datum": 261000, "type": "quantitative"}}},
{"data": {"values": [{}]}, "mark": {"type": "text", "text": "Small Spec: 33818", "align": "left", "baseline": "middle", "fontSize": 10.5, "color": "black"},
 "encoding": {"x": {"datum": 1309996800000, "type": "temporal"}, "y": {"datum": 261000, "type": "quantitative"}}},
{"data": {"values": [{}]}, "mark": {"type": "square", "filled": true, "color": "#cc0000", "stroke": "black", "strokeWidth": 1, "size": 56},
 "encoding": {"x": {"datum": 1322352000000, "type": "temporal"}, "y": {"datum": 261000, "type": "quantitative"}}},
{"data": {"values": [{}]}, "mark": {"type": "text", "text": "Comm Spec: -160653", "align": "left", "baseline": "middle", "fontSize": 10.5, "color": "black"},
 "encoding": {"x": {"datum": 1323216000000, "type": "temporal"}, "y": {"datum": 261000, "type": "quantitative"}}},
{"data": {"values": [{}]}, "mark": {"type": "rule", "color": "black", "strokeWidth": 2.5},
 "encoding": {"y": {"datum": -400000, "type": "quantitative"}}}
]
},
{
"width": 648, "height": 150,
"layer": [
{"data": {"values": [{}]}, "mark": {"type": "rect", "color": "#e6e6fa"},
 "encoding": {"x": {"datum": 1294099200000, "type": "temporal"}, "x2": {"datum": 1364342400000}, "y": {"datum": 300000, "type": "quantitative"}, "y2": {"datum": 250000}}},
{"data": {"name": "cot"}, "mark": {"type": "line", "interpolate": "step-after", "strokeWidth": 1.5, "color": "#cc0000"},
 "encoding": {
  "x": {"field": "d", "type": "temporal", "title": null,
        "scale": {"type": "utc", "domain": [1294099200000, 1364342400000]},
        "axis": {"values": [1294099200000,1296518400000,1298937600000,1301616000000,1304208000000,1306886400000,1309478400000,1312156800000,1314835200000,1317427200000,1320105600000,1322697600000,1325376000000,1328054400000,1330560000000,1333238400000,1335830400000,1338508800000,1341100800000,1343779200000,1346457600000,1349049600000,1351728000000,1354320000000,1356998400000,1359676800000],
                 "tickCount": 40, "grid": true, "gridColor": "#dddddd",
                 "labelExpr": "utcmonth(datum.value) == 0 ? utcFormat(datum.value, '%b %y') : (utcmonth(datum.value) % 2 == 0 ? utcFormat(datum.value, '%b') : '')",
                 "labelFontWeight": "bold", "labelFontSize": 10, "labelColor": "black", "tickSize": 3, "tickColor": "black", "domainColor": "black", "labelPadding": 2}},
  "y": {"field": "pr", "type": "quantitative", "title": null,
        "scale": {"domain": [-300000, 300000], "nice": false, "zero": false},
        "axis": {"orient": "right", "values": [-300000,-200000,-100000,0,100000,200000,300000], "tickCount": 30, "labelExpr": "(datum.value < 0 ? '-' : '') + format(abs(datum.value), 'd')", "labelOverlap": false, "grid": true, "gridColor": "#dcdcdc", "tickSize": 3, "labelPadding": 1, "labelFontSize": 11, "labelColor": "black", "tickColor": "black", "domainColor": "black"}}}},
{"data": {"name": "cot"}, "mark": {"type": "line", "interpolate": "step-after", "strokeWidth": 1.5, "color": "#006600"},
 "encoding": {"x": {"field": "d", "type": "temporal", "title": null}, "y": {"field": "sw", "type": "quantitative", "title": null}}},
{"data": {"name": "cot"}, "mark": {"type": "line", "interpolate": "step-after", "strokeWidth": 1.5, "color": "#000099"},
 "encoding": {"x": {"field": "d", "type": "temporal", "title": null}, "y": {"field": "mm", "type": "quantitative", "title": null}}},
{"data": {"name": "cot"}, "mark": {"type": "line", "interpolate": "step-after", "strokeWidth": 1.5, "color": "#ff9900"},
 "encoding": {"x": {"field": "d", "type": "temporal", "title": null}, "y": {"field": "ot", "type": "quantitative", "title": null}}},
{"data": {"values": [{}]}, "mark": {"type": "square", "filled": true, "color": "#cc0000", "stroke": "black", "strokeWidth": 1, "size": 56},
 "encoding": {"x": {"datum": 1294963200000, "type": "temporal"}, "y": {"datum": 266000, "type": "quantitative"}}},
{"data": {"values": [{}]}, "mark": {"type": "text", "text": "Producers: -124842", "align": "left", "baseline": "middle", "fontSize": 10.5, "color": "black"},
 "encoding": {"x": {"datum": 1295827200000, "type": "temporal"}, "y": {"datum": 266000, "type": "quantitative"}}},
{"data": {"values": [{}]}, "mark": {"type": "square", "filled": true, "color": "#006600", "stroke": "black", "strokeWidth": 1, "size": 56},
 "encoding": {"x": {"datum": 1309305600000, "type": "temporal"}, "y": {"datum": 266000, "type": "quantitative"}}},
{"data": {"values": [{}]}, "mark": {"type": "text", "text": "Swap Dealers: -35811", "align": "left", "baseline": "middle", "fontSize": 10.5, "color": "black"},
 "encoding": {"x": {"datum": 1310256000000, "type": "temporal"}, "y": {"datum": 266000, "type": "quantitative"}}},
{"data": {"values": [{}]}, "mark": {"type": "square", "filled": true, "color": "#000099", "stroke": "black", "strokeWidth": 1, "size": 56},
 "encoding": {"x": {"datum": 1324684800000, "type": "temporal"}, "y": {"datum": 266000, "type": "quantitative"}}},
{"data": {"values": [{}]}, "mark": {"type": "text", "text": "Managed Money: 66582", "align": "left", "baseline": "middle", "fontSize": 10.5, "color": "black"},
 "encoding": {"x": {"datum": 1325635200000, "type": "temporal"}, "y": {"datum": 266000, "type": "quantitative"}}},
{"data": {"values": [{}]}, "mark": {"type": "square", "filled": true, "color": "#ff9900", "stroke": "black", "strokeWidth": 1, "size": 56},
 "encoding": {"x": {"datum": 1340755200000, "type": "temporal"}, "y": {"datum": 266000, "type": "quantitative"}}},
{"data": {"values": [{}]}, "mark": {"type": "text", "text": "Other Report: 60253", "align": "left", "baseline": "middle", "fontSize": 10.5, "color": "black"},
 "encoding": {"x": {"datum": 1341619200000, "type": "temporal"}, "y": {"datum": 266000, "type": "quantitative"}}}
]
}
]
}
